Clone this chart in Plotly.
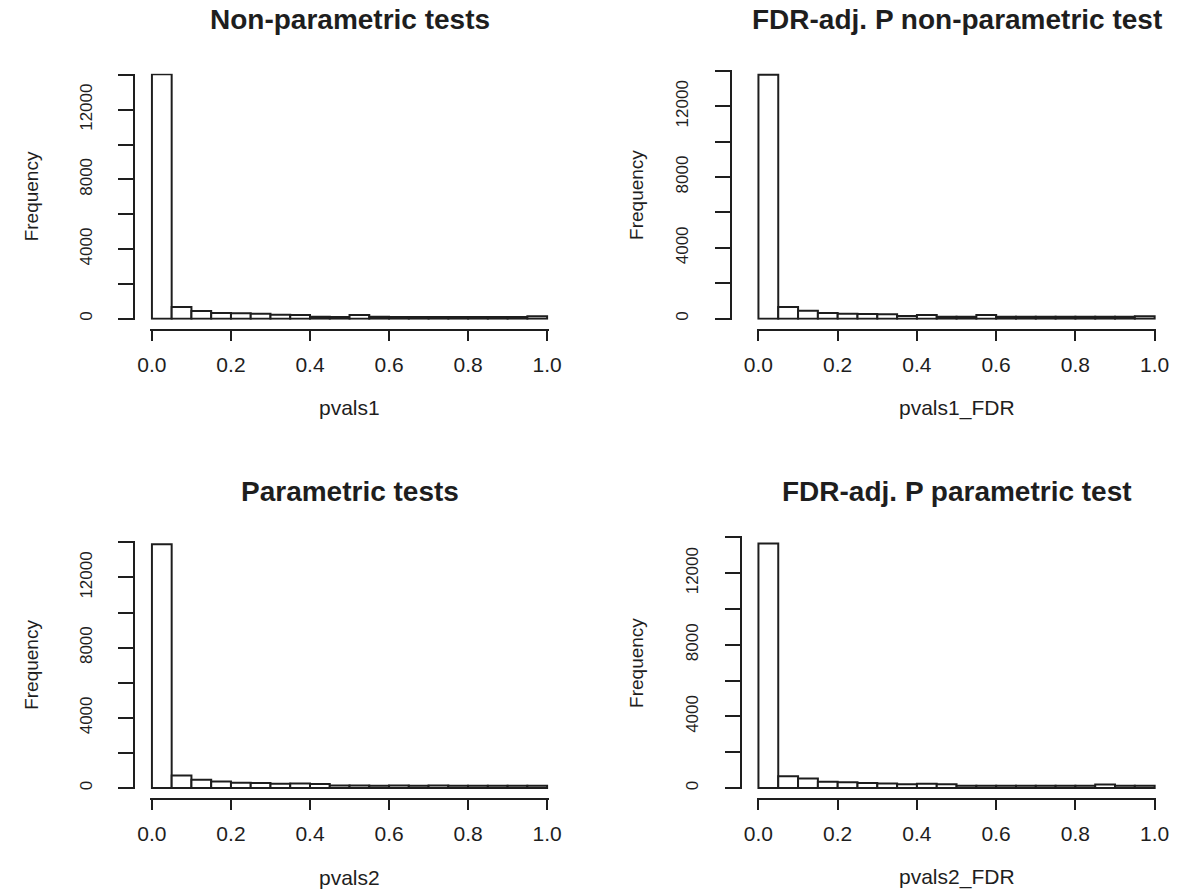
import numpy as np
import plotly.graph_objects as go

# Histogram breaks (20 bins of width 0.05 on [0, 1])
breaks = [0.00, 0.05, 0.10, 0.15, 0.20, 0.25, 0.30, 0.35, 0.40, 0.45, 0.50,
          0.55, 0.60, 0.65, 0.70, 0.75, 0.80, 0.85, 0.90, 0.95, 1.00]

# Bin counts for each p-value vector
pvals1 = [14040, 670, 440, 325, 305, 285, 230, 210, 110, 100,
          210, 110, 100, 100, 100, 100, 100, 95, 90, 140]
pvals1_FDR = [13790, 660, 450, 320, 280, 265, 255, 150, 205, 110,
              110, 205, 110, 105, 100, 110, 100, 100, 100, 130]
pvals2 = [13900, 720, 475, 380, 305, 285, 245, 265, 230, 150,
          150, 140, 150, 140, 150, 140, 130, 140, 130, 140]
pvals2_FDR = [13660, 660, 530, 360, 330, 290, 260, 210, 250, 220,
              130, 130, 130, 130, 130, 130, 130, 200, 130, 130]

titles = ["Non-parametric tests", "FDR-adj. P non-parametric test",
          "Parametric tests", "FDR-adj. P parametric test"]
xlabels = ["pvals1", "pvals1_FDR", "pvals2", "pvals2_FDR"]
series = [pvals1, pvals1_FDR, pvals2, pvals2_FDR]

x_tickvals = [0.0, 0.2, 0.4, 0.6, 0.8, 1.0]
x_ticktext = ["0.0", "0.2", "0.4", "0.6", "0.8", "1.0"]
y_tickvals = [0, 2000, 4000, 6000, 8000, 10000, 12000, 14000]
y_ticktext = ["0", "", "4000", "", "8000", "", "12000", ""]
Y_TOP = 14000

W, H = 1197, 892
INK = "#1e1e1e"
FONT = "Liberation Sans, Arial, Helvetica, sans-serif"

# Pixel layout of each panel
panels = [
    dict(yax=124, x0=142, x1=546, y0=319, ytop=75, xline=330, xlab=408, ttl=20, ylab=19),
    dict(yax=734, x0=762, x1=1167, y0=319, ytop=71, xline=330, xlab=408, ttl=20, ylab=638),
    dict(yax=124, x0=142, x1=546, y0=789, ytop=543, xline=800, xlab=878, ttl=492, ylab=19),
    dict(yax=744, x0=762, x1=1167, y0=789, ytop=538, xline=800, xlab=878, ttl=492, ylab=638),
]

lo = np.array(breaks[:-1])
hi = np.array(breaks[1:])
centers = (lo + hi) / 2
widths = hi - lo

XPAD = 0.004
YPAD = 60

fig = go.Figure()
layout = dict(
    width=W, height=H,
    margin=dict(l=0, r=0, t=0, b=0),
    paper_bgcolor="white", plot_bgcolor="white",
    showlegend=False,
    font=dict(family=FONT, color=INK),
)
annotations = []

for i, (p, counts) in enumerate(zip(panels, series)):
    k = "" if i == 0 else str(i + 1)
    xa, ya = "x" + k, "y" + k

    fig.add_trace(go.Bar(
        x=centers, y=counts, width=widths,
        marker=dict(color="white", line=dict(color=INK, width=2)),
        xaxis=xa, yaxis=ya, hoverinfo="x+y",
    ))

    # pixel -> paper helpers for this panel
    ppx = (p["x1"] - p["x0"])  # pixels per unit x
    ppy = (p["y0"] - p["ytop"]) / Y_TOP  # pixels per count
    dx0 = (p["x0"] - XPAD * ppx) / W
    dx1 = (p["x1"] + XPAD * ppx) / W
    dy0 = 1 - (p["y0"] + YPAD * ppy) / H
    dy1 = 1 - (p["ytop"] - YPAD * ppy) / H

    layout["xaxis" + k] = dict(
        domain=[dx0, dx1], range=[-XPAD, 1 + XPAD],
        anchor="free", position=1 - p["xline"] / H,
        showline=True, linecolor=INK, linewidth=2,
        ticks="outside", ticklen=10, tickwidth=2, tickcolor=INK,
        tickvals=x_tickvals, ticktext=x_ticktext,
        tickfont=dict(size=21, color=INK, family=FONT),
        ticklabelstandoff=6,
        showgrid=False, zeroline=False, fixedrange=True,
    )
    layout["yaxis" + k] = dict(
        domain=[dy0, dy1], range=[-YPAD, Y_TOP + YPAD],
        anchor="free", position=p["yax"] / W,
        showline=True, linecolor=INK, linewidth=2,
        ticks="outside", ticklen=15, tickwidth=2, tickcolor=INK,
        tickvals=y_tickvals, ticktext=y_ticktext, tickangle=-90,
        tickfont=dict(size=17, color=INK, family=FONT),
        ticklabelstandoff=20,
        showgrid=False, zeroline=False, fixedrange=True,
    )

    xc = (p["x0"] + p["x1"]) / 2 / W
    annotations.append(dict(
        text="<b>%s</b>" % titles[i], x=xc, y=1 - p["ttl"] / H,
        xref="paper", yref="paper", xanchor="center", yanchor="middle",
        showarrow=False, font=dict(size=28, color=INK, family=FONT),
    ))
    annotations.append(dict(
        text=xlabels[i], x=xc, y=1 - p["xlab"] / H,
        xref="paper", yref="paper", xanchor="center", yanchor="middle",
        showarrow=False, font=dict(size=21, color=INK, family=FONT),
    ))
    annotations.append(dict(
        text="Frequency", x=p["ylab"] / W,
        y=1 - (p["y0"] + p["ytop"]) / 2 / H,
        xref="paper", yref="paper", xanchor="center", yanchor="middle",
        textangle=-90, showarrow=False,
        font=dict(size=19, color=INK, family=FONT),
    ))

layout["annotations"] = annotations
fig.update_layout(**layout)
fig.write_html("out.html")
